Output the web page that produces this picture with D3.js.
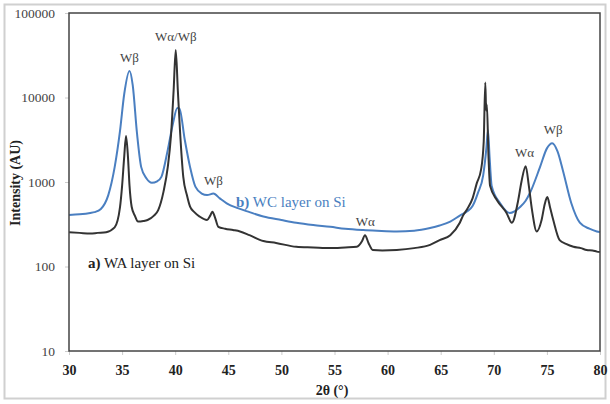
<!DOCTYPE html>
<html>
<head>
<meta charset="utf-8">
<script src="https://cdn.jsdelivr.net/npm/d3@7"></script>
<style>
  body { margin: 0; background: #fff; }
  svg text { font-family: "Liberation Serif", "DejaVu Serif", Tinos, "Times New Roman", Times, serif; }
</style>
</head>
<body>
<svg width="610" height="404"></svg>
<script>
/* values */
var xTicks = [30, 35, 40, 45, 50, 55, 60, 65, 70, 75, 80];
var yTicks = [10, 100, 1000, 10000, 100000];

var waAngle = [30, 31, 32, 32.7, 33.5, 34.3, 34.8, 35.0, 35.2, 35.37, 35.55, 35.7, 35.9, 36.2, 36.5, 37.0, 37.4, 38.0, 38.4, 38.9, 39.3, 39.6, 39.85, 40.05, 40.25, 40.45, 40.76, 41.1, 41.4, 41.8, 42.3, 43.0, 43.3, 43.5, 43.75, 44.06, 44.7, 45.45, 46.1, 47, 48.3, 49.5, 51.4, 53, 54.6, 56, 57.1, 57.6, 57.87, 58.2, 58.6, 59.5, 60.86, 62.5, 64.0, 64.9, 65.9, 66.8, 67.1, 67.5, 68.0, 68.4, 68.8, 69.05, 69.2, 69.28, 69.35, 69.5, 69.65, 70.3, 71.2, 71.7, 72.3, 72.6, 73.0, 73.3, 73.6, 74.04, 74.5, 74.8, 75.04, 75.3, 75.6, 76.2, 76.8, 77.5, 78.2, 78.75, 79.3, 79.7, 80];
var waCounts = [255, 250, 245, 250, 255, 290, 500, 900, 2000, 3500, 2000, 900, 510, 400, 340, 345, 355, 400, 465, 770, 1500, 3500, 12000, 36600, 12000, 4100, 1150, 700, 510, 440, 390, 355, 400, 445, 380, 295, 280, 270, 260, 235, 200, 190, 171, 168, 165, 168, 171, 200, 235, 190, 157, 155, 157, 165, 180, 205, 235, 330, 400, 480, 640, 970, 1400, 3000, 15000, 7000, 8200, 2000, 900, 610, 430, 330, 610, 1000, 1540, 900, 465, 260, 355, 550, 665, 500, 355, 205, 185, 171, 165, 157, 155, 150, 148];

var wcAngle = [30, 31, 32, 32.4, 33.0, 33.7, 34.3, 34.8, 35.2, 35.7, 36.0, 36.4, 36.8, 37.3, 37.8, 38.3, 38.7, 39.3, 39.8, 40.2, 40.4, 40.9, 41.4, 41.9, 42.5, 43.0, 43.6, 44.2, 44.85, 45.9, 47, 48.3, 50, 51.4, 53, 54.6, 56, 57.7, 59, 60.86, 62.5, 64.0, 64.9, 65.9, 66.8, 67.5, 68.0, 68.5, 69.0, 69.3, 69.45, 69.6, 69.8, 70.6, 71.5, 72.5, 73.0, 73.4, 74.35, 75.0, 75.5, 76.0, 76.5, 77.3, 78.1, 79.0, 79.7, 80];
var wcCounts = [407, 415, 430, 440, 480, 700, 1500, 4000, 11000, 20600, 14000, 3800, 1500, 1100, 980, 1020, 1150, 2400, 5000, 7500, 7400, 3160, 1500, 880, 730, 700, 730, 640, 560, 490, 440, 390, 355, 330, 310, 295, 280, 270, 265, 260, 265, 285, 305, 340, 400, 450, 520, 740, 1200, 2500, 4100, 2000, 900, 560, 430, 510, 600, 740, 1500, 2500, 2870, 2300, 1380, 560, 330, 280, 260, 255];

var peakText = ["Wβ", "Wα/Wβ", "Wβ", "Wα", "Wα", "Wβ"];
var peakAngle = [35.7, 40.05, 43.6, 57.9, 72.9, 75.6];
var peakValue = [20600, 36600, 730, 235, 1540, 2870];

var svg = d3.select("svg");
var mLeft = 69, mRight = 600, mTop = 13, mBottom = 351;

svg.append("rect").attr("x", 4.5).attr("y", 4.5).attr("width", 601).attr("height", 394)
  .attr("fill", "none").attr("stroke", "#d0d0d0").attr("stroke-width", 2);

var x = d3.scaleLinear().domain([30, 80]).range([mLeft, mRight]);
var y = d3.scaleLog().domain([10, 100000]).range([mBottom, mTop]);

// axes
var xAxis = svg.append("g").attr("transform", "translate(0," + mBottom + ")")
  .call(d3.axisBottom(x).tickValues(xTicks).tickSize(4).tickPadding(10));
xAxis.selectAll("text").attr("font-size", 14).attr("font-weight", "bold").attr("fill", "#222");

var yAxis = svg.append("g").attr("transform", "translate(" + mLeft + ",0)")
  .call(d3.axisLeft(y).tickValues(yTicks).tickFormat(d3.format("d")).tickSize(4).tickPadding(10));
yAxis.selectAll("text").attr("font-size", 13.5).attr("fill", "#444");

svg.selectAll(".domain").remove();
svg.selectAll(".tick line").attr("stroke", "#ccc");

var line = d3.line()
  .x(function(d) { return x(d[0]); })
  .y(function(d) { return y(d[1]); })
  .curve(d3.curveMonotoneX);

var wc = d3.zip(wcAngle, wcCounts);
var wa = d3.zip(waAngle, waCounts);

svg.append("path").datum(wc).attr("d", line)
  .attr("fill", "none").attr("stroke", "#4a7fc1").attr("stroke-width", 2);
svg.append("path").datum(wa).attr("d", line)
  .attr("fill", "none").attr("stroke", "#333").attr("stroke-width", 2);

// plot frame
svg.append("rect").attr("x", mLeft).attr("y", mTop).attr("width", mRight - mLeft).attr("height", mBottom - mTop)
  .attr("fill", "none").attr("stroke", "#444").attr("stroke-width", 1.5);

// peak labels
for (var i = 0; i < peakText.length; i++) {
  svg.append("text")
    .attr("x", x(peakAngle[i]))
    .attr("y", y(peakValue[i]) - 9)
    .attr("text-anchor", "middle")
    .attr("font-size", 13)
    .attr("fill", "#444")
    .text(peakText[i]);
}

// series labels
var lb = svg.append("text").attr("x", 236).attr("y", 207).attr("font-size", 15).attr("fill", "#4a7fc1");
lb.append("tspan").attr("font-weight", "bold").text("b)");
lb.append("tspan").text(" WC layer on Si");

var la = svg.append("text").attr("x", 88).attr("y", 268).attr("font-size", 15).attr("fill", "#222");
la.append("tspan").attr("font-weight", "bold").text("a)");
la.append("tspan").text(" WA layer on Si");

svg.append("text").attr("x", 332).attr("y", 395).attr("text-anchor", "middle")
  .attr("font-size", 14).attr("font-weight", "bold").attr("fill", "#222").text("2θ (°)");

svg.append("text").attr("transform", "translate(20,183) rotate(-90)").attr("text-anchor", "middle")
  .attr("font-size", 14).attr("font-weight", "bold").attr("fill", "#222").text("Intensity (AU)");
</script>
</body>
</html>
